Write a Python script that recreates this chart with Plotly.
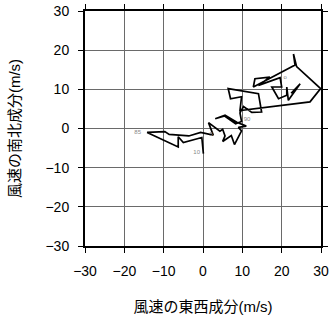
import plotly.graph_objects as go

# hodograph: east-west (u) and north-south (v) wind components, m/s
u = [0.1, -0.1, -0.3, -5.0, -6.3, -6.3, -14.2, -9.7, -8.6, -3.6, -0.6, 2.6, 1.4, 4.3, 5.0,
     5.6, 5.0, 7.2, 8.0, 9.8, 9.0, 11.0, 8.6, 5.6, 3.1, 5.5, 8.3, 9.8, 9.4, 10.3, 12.4,
     14.9, 14.1, 6.4, 7.0, 9.8, 9.4, 14.5, 27.2, 29.9, 23.8, 23.0, 23.4, 12.8, 13.2,
     17.0, 14.1, 19.6, 20.0, 17.5, 19.2, 21.3, 21.3, 21.7, 24.7, 22.4]
v = [-6.4, -4.6, -2.3, -3.6, -2.1, -4.7, -1.0, -0.8, -1.5, -1.9, -1.0, -1.7, 1.5, -0.7, -0.2,
     -1.9, -3.3, -1.8, -4.1, -0.6, 0.3, 0.6, 1.6, 3.4, 2.5, 3.2, 1.2, 1.8, 4.0, 5.6, 4.1,
     4.2, 8.9, 10.2, 7.6, 8.1, 4.6, 5.2, 6.8, 10.2, 15.8, 19.0, 16.2, 10.6, 12.7,
     13.1, 11.0, 13.0, 10.6, 10.6, 7.6, 8.5, 10.6, 7.2, 11.4, 9.0]

label_text = ["85", "10", "90", "o", "5"]
label_u = [-16.6, -1.6, 11.2, 20.9, 2.1]
label_v = [-0.9, -6.1, 2.2, 13.1, -1.6]

ticks = [-30, -20, -10, 0, 10, 20, 30]
tick_text = ["\u221230", "\u221220", "\u221210", "0", "10", "20", "30"]

fig = go.Figure()
fig.add_trace(go.Scatter(x=u, y=v, mode="lines",
                         line=dict(color="black", width=1.7), hoverinfo="skip"))
fig.add_trace(go.Scatter(x=label_u, y=label_v, mode="text", text=label_text,
                         textfont=dict(size=6, color="#888888", family="Liberation Sans"),
                         hoverinfo="skip"))

font = "Liberation Sans, Arial, Noto Sans CJK JP, sans-serif"
common = dict(range=[-30, 30], tickvals=ticks, ticktext=tick_text,
              showgrid=True, gridcolor="#6a6a6a", gridwidth=1,
              zeroline=False, showline=True, linecolor="black", linewidth=2,
              mirror="ticks", ticks="outside", ticklen=5, tickwidth=1, tickcolor="black",
              tickfont=dict(size=14, color="black", family=font),
              ticklabelstandoff=6, fixedrange=True, automargin=False)

fig.update_layout(
    width=331, height=318,
    margin=dict(l=85, r=10, t=11, b=72),
    paper_bgcolor="white", plot_bgcolor="white",
    showlegend=False,
    font=dict(family=font, color="black"),
    xaxis=dict(**common, title=dict(text="風速の東西成分(m/s)", standoff=24,
                                    font=dict(size=15, family=font))),
    yaxis=dict(**common, title=dict(text="風速の南北成分(m/s)", standoff=21,
                                    font=dict(size=15, family=font))),
)

fig.write_html("out.html")
